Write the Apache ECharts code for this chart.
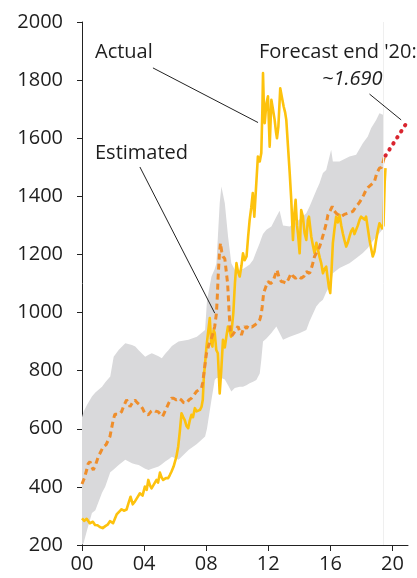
<!DOCTYPE html>
<html>
<head>
<meta charset="utf-8">
<script src="https://cdn.jsdelivr.net/npm/echarts@6/dist/echarts.min.js"></script>
<style>
html,body{margin:0;padding:0;background:#fff;}
#chart{width:417px;height:578px;}
</style>
</head>
<body>
<div id="chart"></div>
<script>
// Years are 2000-based (0 = 2000)
const xTicks = [0, 4, 8, 12, 16, 20];
const xTickLabels = ['00', '04', '08', '12', '16', '20'];

const actual = [
[0.0,292],[0.15,283],[0.3,290],[0.5,275],[0.7,280],[0.84,269],[1.0,268],[1.15,262],[1.33,258],[1.5,265],
[1.65,270],[1.8,282],[2.0,275],[2.23,305],[2.4,315],[2.55,323],[2.7,318],[2.87,322],[3.0,345],[3.13,366],
[3.27,340],[3.41,350],[3.55,362],[3.73,378],[3.9,370],[4.05,401],[4.17,390],[4.27,424],[4.38,405],[4.48,395],
[4.6,400],[4.8,424],[4.9,415],[5.02,449],[5.13,432],[5.23,424],[5.4,430],[5.55,430],[5.65,440],[5.76,452],
[5.9,470],[6.08,504],[6.2,540],[6.3,590],[6.41,653],[6.52,640],[6.62,630],[6.73,610],[6.84,602],[6.95,630],
[7.05,648],[7.15,640],[7.27,671],[7.38,660],[7.48,659],[7.6,665],[7.7,676],[7.78,700],[7.85,779],[8.02,883],
[8.12,930],[8.23,981],[8.32,900],[8.4,883],[8.48,940],[8.55,930],[8.65,871],[8.75,860],[8.87,722],[8.97,800],
[9.08,906],[9.2,880],[9.3,917],[9.4,952],[9.5,940],[9.6,917],[9.75,1000],[9.85,1100],[9.95,1170],[10.05,1140],
[10.16,1124],[10.27,1160],[10.37,1204],[10.48,1180],[10.6,1193],[10.7,1260],[10.8,1319],[10.9,1360],[11.0,1411],[11.1,1330],
[11.2,1420],[11.33,1537],[11.45,1520],[11.55,1549],[11.62,1700],[11.66,1824],[11.72,1700],[11.77,1652],[11.88,1720],[11.98,1744],
[12.09,1571],[12.2,1732],[12.3,1700],[12.41,1663],[12.5,1620],[12.56,1600],[12.65,1640],[12.77,1772],[12.88,1740],[12.99,1709],
[13.08,1690],[13.16,1663],[13.27,1571],[13.38,1480],[13.48,1388],[13.59,1250],[13.68,1340],[13.76,1388],[13.85,1300],[13.91,1273],
[14.02,1204],[14.12,1353],[14.23,1330],[14.34,1273],[14.45,1250],[14.55,1319],[14.62,1330],[14.77,1261],[14.88,1230],[14.98,1204],
[15.1,1240],[15.2,1216],[15.31,1190],[15.41,1170],[15.52,1135],[15.62,1150],[15.73,1158],[15.82,1120],[15.9,1089],[15.99,1067],
[16.08,1150],[16.16,1239],[16.27,1290],[16.37,1330],[16.48,1310],[16.59,1336],[16.7,1300],[16.8,1273],[16.9,1250],[17.02,1227],
[17.12,1240],[17.23,1261],[17.34,1280],[17.45,1290],[17.55,1270],[17.66,1273],[17.77,1300],[17.88,1319],[17.98,1330],[18.09,1336],
[18.2,1320],[18.3,1330],[18.41,1290],[18.52,1250],[18.63,1220],[18.73,1193],[18.84,1210],[18.95,1250],[19.05,1280],[19.16,1307],
[19.25,1300],[19.33,1290],[19.42,1300],[19.5,1450],[19.55,1497]
];

const estimated = [
[0.0,410],[0.15,430],[0.3,458],[0.4,480],[0.51,487],[0.62,470],[0.73,458],[0.9,480],[1.05,504],[1.2,520],
[1.37,538],[1.55,545],[1.8,573],[1.9,600],[2.01,630],[2.12,650],[2.23,653],[2.4,650],[2.55,659],[2.7,680],
[2.87,699],[3.0,690],[3.09,676],[3.25,690],[3.41,699],[3.55,690],[3.73,682],[3.9,670],[4.05,653],[4.27,648],
[4.45,660],[4.59,665],[4.75,660],[4.9,659],[5.05,650],[5.19,642],[5.3,655],[5.44,671],[5.6,690],[5.76,705],
[5.9,705],[6.08,699],[6.25,705],[6.4,699],[6.55,690],[6.73,688],[6.9,700],[7.05,705],[7.2,715],[7.37,728],
[7.55,735],[7.7,740],[7.78,760],[7.85,791],[8.02,860],[8.18,890],[8.34,912],[8.45,930],[8.55,952],[8.66,998],
[8.72,1060],[8.77,1124],[8.85,1200],[8.92,1239],[9.0,1210],[9.08,1193],[9.2,1185],[9.3,1181],[9.38,1100],[9.47,1009],
[9.56,929],[9.65,920],[9.73,917],[9.85,935],[9.95,945],[10.05,952],[10.16,935],[10.27,923],[10.37,940],[10.48,952],
[10.6,945],[10.7,955],[10.8,952],[10.95,950],[11.13,957],[11.3,965],[11.45,975],[11.55,995],[11.61,1021],[11.7,1067],
[11.85,1090],[11.98,1107],[12.15,1100],[12.3,1107],[12.45,1130],[12.56,1147],[12.7,1120],[12.84,1107],[13.0,1105],[13.16,1101],
[13.3,1115],[13.48,1135],[13.6,1125],[13.76,1118],[13.95,1125],[14.12,1118],[14.3,1125],[14.45,1141],[14.66,1135],[14.82,1160],
[14.98,1193],[15.15,1210],[15.31,1227],[15.47,1255],[15.63,1285],[15.75,1310],[15.84,1336],[15.98,1350],[16.12,1365],[16.25,1350],
[16.37,1342],[16.55,1335],[16.7,1330],[16.9,1338],[17.12,1342],[17.3,1345],[17.45,1348],[17.66,1365],[17.82,1375],[17.98,1388],
[18.15,1405],[18.3,1422],[18.45,1432],[18.63,1440],[18.84,1451],[18.99,1480],[19.16,1497],[19.3,1500],[19.42,1503],[19.49,1537]
];

const bandYears = [0.0,0.1,0.32,0.64,0.86,1.29,1.5,1.82,2.04,2.36,2.79,3.22,3.43,3.65,4.07,4.29,4.5,4.93,5.14,5.36,
  5.58,5.79,6.22,6.86,7.4,7.93,8.05,8.34,8.55,8.66,8.87,8.98,9.2,9.41,9.62,9.84,10.16,10.37,10.59,10.8,
  11.02,11.23,11.45,11.55,11.66,11.88,12.2,12.52,12.73,12.95,13.38,14.0,14.45,14.66,15.09,15.3,15.52,15.73,16.05,16.16,
  16.59,17.23,17.66,18.09,18.41,18.63,18.95,19.16,19.42];
const bandLow = [200,206,250,310,320,380,401,450,460,475,493,481,478,475,462,458,462,470,478,487,
  495,504,493,527,548,573,600,700,768,775,775,775,770,750,728,740,745,745,750,757,
  762,768,790,837,900,911,930,952,930,906,917,929,940,970,1021,1035,1044,1070,1100,1135,
  1153,1170,1187,1205,1222,1239,1260,1273,1290];
const bandHigh = [640,659,682,711,725,745,760,780,848,871,894,888,883,870,848,855,860,850,843,858,
  871,885,900,906,917,940,1040,1124,1150,1170,1376,1434,1376,1261,1170,1147,1147,1150,1158,1165,
  1181,1210,1239,1255,1270,1285,1296,1330,1350,1300,1296,1320,1342,1365,1420,1445,1480,1491,1560,1520,
  1520,1537,1543,1583,1606,1635,1663,1686,1680];

const forecast = [[19.55,1540],[20.88,1650]];
const actualEndYear = 19.42;

const FONT = '"Open Sans", "Noto Sans", sans-serif';
const TXT = '#1e1e1e';

const chart = echarts.init(document.getElementById('chart'), null, {renderer: 'canvas'});
chart.setOption({
  animation: false,
  backgroundColor: '#fff',
  grid: {left: 82, right: 9, top: 22, bottom: 33, containLabel: false},
  xAxis: {
    type: 'value', min: 0, max: 21,
    axisLine: {show: true, lineStyle: {color: '#222', width: 1}},
    axisTick: {show: true, length: 6, lineStyle: {color: '#222'}, customValues: xTicks},
    axisLabel: {
      customValues: xTicks,
      formatter: v => xTickLabels[xTicks.indexOf(v)],
      color: TXT, fontSize: 20, fontFamily: FONT, margin: 9
    },
    splitLine: {show: false}
  },
  yAxis: {
    type: 'value', min: 200, max: 2000, interval: 200,
    axisLine: {show: true, lineStyle: {color: '#222', width: 1}},
    axisTick: {show: true, length: 5, lineStyle: {color: '#222'}},
    axisLabel: {color: TXT, fontSize: 20, fontFamily: FONT, margin: 19, formatter: v => String(v)},
    splitLine: {show: false}
  },
  graphic: [
    {type: 'text', left: 95, top: 42, style: {text: 'Actual', fill: TXT, font: '20px ' + FONT}},
    {type: 'text', left: 95, top: 143, style: {text: 'Estimated', fill: TXT, font: '20px ' + FONT}},
    {type: 'text', left: 259, top: 42, style: {text: "Forecast end '20:", fill: TXT, font: '20px ' + FONT}},
    {type: 'text', left: 322, top: 69, style: {text: '~1.690', fill: TXT, font: 'italic 20px ' + FONT}}
  ],
  series: [
    {
      name: 'band', type: 'custom', silent: true, clip: true, z: 1,
      data: [0],
      renderItem: function (params, api) {
        const pts = [];
        for (let i = 0; i < bandYears.length; i++) pts.push(api.coord([bandYears[i], bandHigh[i]]));
        for (let i = bandYears.length - 1; i >= 0; i--) pts.push(api.coord([bandYears[i], bandLow[i]]));
        return {type: 'polygon', shape: {points: pts}, style: {fill: '#d9d9db'}};
      },
      markLine: {
        silent: true, symbol: 'none', label: {show: false},
        lineStyle: {color: '#efefef', width: 1, type: 'solid'},
        data: [{xAxis: actualEndYear}]
      }
    },
    {
      name: 'Actual', type: 'line', symbol: 'none', data: actual,
      lineStyle: {color: '#fdc20d', width: 2.6, join: 'round'}, z: 3
    },
    {
      name: 'Estimated', type: 'line', symbol: 'none', data: estimated,
      lineStyle: {color: '#ef8e2b', width: 3, type: [6, 4]}, z: 4,
      markLine: {
        silent: true, symbol: 'none', label: {show: false},
        lineStyle: {color: '#222', width: 1, type: 'solid'},
        data: [
          [{coord: [4.57, 1842]}, {coord: [11.34, 1654]}],
          [{coord: [3.73, 1501]}, {coord: [8.55, 998]}],
          [{coord: [18.52, 1752]}, {coord: [20.56, 1663]}]
        ]
      }
    },
    {
      name: 'Forecast', type: 'line', symbol: 'none', data: forecast,
      lineStyle: {color: '#d9252f', width: 4, type: [0.5, 6.7], cap: 'round'}, z: 5
    }
  ]
});
</script>
</body>
</html>
